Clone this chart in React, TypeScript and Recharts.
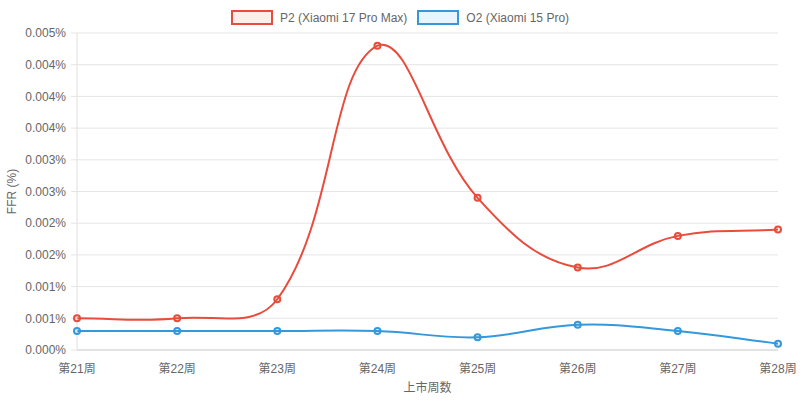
import React from 'react';
import { LineChart, Line, XAxis, YAxis, CartesianGrid, Label } from 'recharts';

const weeks = ['第21周', '第22周', '第23周', '第24周', '第25周', '第26周', '第27周', '第28周'];
const p2Values = [0.0005, 0.0005, 0.0008, 0.0048, 0.0024, 0.0013, 0.0018, 0.0019];
const o2Values = [0.0003, 0.0003, 0.0003, 0.0003, 0.0002, 0.0004, 0.0003, 0.0001];

const yTicks = [0, 0.0005, 0.001, 0.0015, 0.002, 0.0025, 0.003, 0.0035, 0.004, 0.0045, 0.005];
const yTickLabels = ['0.000%', '0.001%', '0.001%', '0.002%', '0.002%', '0.003%', '0.003%', '0.004%', '0.004%', '0.004%', '0.005%'];

const series = [
  { key: 'p2', name: 'P2 (Xiaomi 17 Pro Max)', color: '#e74c3c', fill: 'rgba(231,76,60,0.1)' },
  { key: 'o2', name: 'O2 (Xiaomi 15 Pro)', color: '#3498db', fill: 'rgba(52,152,219,0.1)' },
];

const data = weeks.map((week, i) => ({ week, p2: p2Values[i], o2: o2Values[i] }));

const W = 800;
const H = 401;
const margin = { top: 33, right: 22, bottom: 6, left: 0 };
const yAxisWidth = 77;
const xAxisHeight = 45;
const area = {
  left: margin.left + yAxisWidth,
  right: W - margin.right,
  top: margin.top,
  bottom: H - margin.bottom - xAxisHeight,
};

const FONT = "'Helvetica Neue', Helvetica, Arial, 'Liberation Sans', 'Noto Sans CJK SC', sans-serif";

// chart.js style spline (tension 0.4), control points capped to the plot area
const splineCurve = (context: any) => {
  let pts: { x: number; y: number }[] = [];
  const t = 0.4;
  const cap = (v: number, lo: number, hi: number) => Math.max(Math.min(v, hi), lo);
  return {
    areaStart() {},
    areaEnd() {},
    lineStart() {
      pts = [];
    },
    point(x: number, y: number) {
      pts.push({ x: +x, y: +y });
    },
    lineEnd() {
      const n = pts.length;
      if (!n) return;
      const cps = pts.map((cur, i) => {
        const prev = pts[i - 1] || cur;
        const next = pts[i + 1] || cur;
        const d01 = Math.hypot(cur.x - prev.x, cur.y - prev.y);
        const d12 = Math.hypot(next.x - cur.x, next.y - cur.y);
        let s01 = d01 / (d01 + d12);
        let s12 = d12 / (d01 + d12);
        if (isNaN(s01)) s01 = 0;
        if (isNaN(s12)) s12 = 0;
        const fa = t * s01;
        const fb = t * s12;
        return {
          px: cap(cur.x - fa * (next.x - prev.x), area.left, area.right),
          py: cap(cur.y - fa * (next.y - prev.y), area.top, area.bottom),
          nx: cap(cur.x + fb * (next.x - prev.x), area.left, area.right),
          ny: cap(cur.y + fb * (next.y - prev.y), area.top, area.bottom),
        };
      });
      context.moveTo(pts[0].x, pts[0].y);
      for (let i = 1; i < n; i++) {
        context.bezierCurveTo(cps[i - 1].nx, cps[i - 1].ny, cps[i].px, cps[i].py, pts[i].x, pts[i].y);
      }
    },
  };
};

const YTitle = ({ viewBox }: any) => {
  const cy = viewBox.y + viewBox.height / 2;
  return (
    <text x={12} y={cy} transform={`rotate(-90 12 ${cy})`} textAnchor="middle" dominantBaseline="central" fill="#666" fontSize={12} fontFamily={FONT}>
      FFR (%)
    </text>
  );
};

const XTitle = ({ viewBox }: any) => (
  <text x={viewBox.x + viewBox.width / 2} y={388} textAnchor="middle" dominantBaseline="central" fill="#666" fontSize={12} fontFamily={FONT}>
    上市周数
  </text>
);

export default function App() {
  return (
    <div style={{ position: 'absolute', left: 0, top: 0, width: W, height: H, background: '#fff', fontFamily: FONT }}>
      <div
        style={{
          position: 'absolute',
          top: 10,
          left: 0,
          width: W,
          display: 'flex',
          justifyContent: 'center',
          gap: 10,
          fontSize: 12,
          color: '#666',
          lineHeight: '14px',
        }}
      >
        {series.map((s) => (
          <div key={s.key} style={{ display: 'flex', alignItems: 'center', gap: 7 }}>
            <span style={{ display: 'inline-block', width: 38, height: 11, border: `2px solid ${s.color}`, background: s.fill }} />
            <span>{s.name}</span>
          </div>
        ))}
      </div>
      <LineChart width={W} height={H} data={data} margin={margin}>
        <CartesianGrid vertical={false} stroke="#e5e5e5" />
        <XAxis
          dataKey="week"
          height={xAxisHeight}
          axisLine={{ stroke: '#d4d4d4' }}
          tickLine={false}
          tickSize={8}
          tickMargin={6}
          tick={{ fill: '#666', fontSize: 12, fontFamily: FONT }}
          interval={0}
        >
          <Label content={<XTitle />} />
        </XAxis>
        <YAxis
          width={yAxisWidth}
          domain={[0, 0.005]}
          ticks={yTicks}
          interval={0}
          axisLine={{ stroke: '#e0e0e0' }}
          tickLine={{ stroke: '#e5e5e5' }}
          tickSize={6}
          tickMargin={5}
          tick={{ fill: '#666', fontSize: 12, fontFamily: FONT }}
          tickFormatter={(v: number) => yTickLabels[yTicks.indexOf(v)] ?? ''}
        >
          <Label content={<YTitle />} />
        </YAxis>
        {series.map((s) => (
          <Line
            key={s.key}
            dataKey={s.key}
            name={s.name}
            type={splineCurve as any}
            stroke={s.color}
            strokeWidth={2}
            dot={{ r: 3, stroke: s.color, strokeWidth: 2, fill: s.fill }}
            activeDot={false}
            isAnimationActive={false}
          />
        ))}
      </LineChart>
    </div>
  );
}
